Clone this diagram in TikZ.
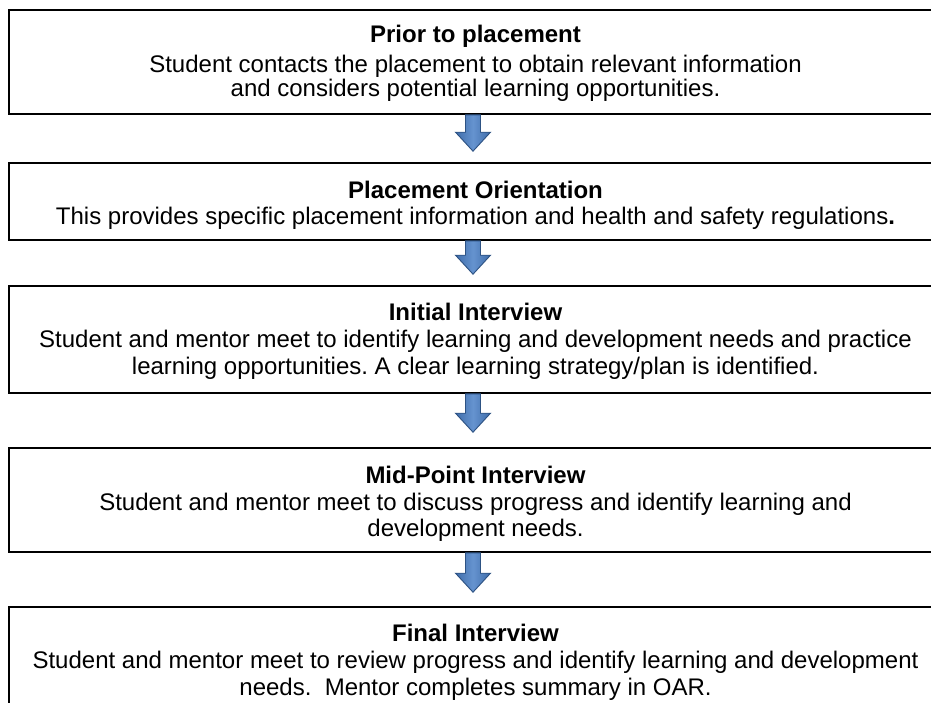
\documentclass[tikz,border=0pt]{standalone}
\usepackage{fontspec}
\setmainfont{Liberation Sans}
\usetikzlibrary{calc}
\frenchspacing

\definecolor{arrowedge}{HTML}{2D5283}
\definecolor{arrowdark}{HTML}{3F6DAA}
\definecolor{arrowlight}{HTML}{6593CF}

\tikzset{
  stagebox/.style={draw=black, line width=1.6pt, rectangle, inner sep=0pt,
                   minimum width=932pt},
  heading/.style={font=\fontsize{24}{27}\selectfont\bfseries, anchor=base, inner sep=0pt},
  body/.style={font=\fontsize{24}{27}\selectfont, anchor=base, inner sep=0pt},
  flowarrow/.style={draw=arrowedge, line width=0.9pt, left color=arrowdark,
                    right color=arrowdark, middle color=arrowlight},
}

% block arrow: shaft from #1 down to the head, tip at #2
\newcommand\blockarrow[2]{%
  \path[flowarrow] ($(#1)+(-7.5,0)$) -- ($(#2)+(-7.5,-19)$) -- ($(#2)+(-17.5,-19)$)
    -- (#2) -- ($(#2)+(17.5,-19)$) -- ($(#2)+(7.5,-19)$) -- ($(#1)+(7.5,0)$) -- cycle;}

\begin{document}
\begin{tikzpicture}[x=1pt, y=-1pt]
  \clip (0,0) rectangle (931,702);
  \fill[white] (0,0) rectangle (931,702);

  % stage boxes
  \node[stagebox, minimum height=104pt] (b1) at (475,62) {};
  \node[stagebox, minimum height=77pt]  (b2) at (475,201.5) {};
  \node[stagebox, minimum height=107pt] (b3) at (475,339.5) {};
  \node[stagebox, minimum height=104pt] (b4) at (475,500) {};
  \node[stagebox, minimum height=106pt] (b5) at (475,660) {};

  % texts
  \node[heading] (t1) at (475.5,42.5) {Prior to placement};
  \node[body] (t1a) at (475.5,72) {Student contacts the placement to obtain relevant information};
  \node[body] (t1b) at (475.5,96.5) {and considers potential learning opportunities.};

  \node[heading] (t2) at (475.5,198.5) {Placement Orientation};
  \node[body] (t2a) at (475.5,224.5) {This provides specific placement information and health and safety regulations{\bfseries .}};

  \node[heading] (t3) at (475.5,320) {Initial Interview};
  \node[body] (t3a) at (475.5,347.5) {Student and mentor meet to identify learning and development needs and practice};
  \node[body] (t3b) at (475.5,374.5) {learning opportunities. A clear learning strategy/plan is identified.};

  \node[heading] (t4) at (475.5,483) {Mid-Point Interview};
  \node[body] (t4a) at (475.5,510) {Student and mentor meet to discuss progress and identify learning and};
  \node[body] (t4b) at (475.5,536) {development needs.};

  \node[heading] (t5) at (475.5,641) {Final Interview};
  \node[body] (t5a) at (475.5,668) {Student and mentor meet to review progress and identify learning and development};
  \node[body] (t5b) at (475.5,695) {needs.\ \ Mentor completes summary in OAR.};

  % arrow ends
  \coordinate (a1s) at ($(b1.south)+(-2,0)$);
  \coordinate (a1e) at ($(b2.north)+(-2,-11)$);
  \coordinate (a2s) at ($(b2.south)+(-2,0)$);
  \coordinate (a2e) at ($(b3.north)+(-2,-11)$);
  \coordinate (a3s) at ($(b3.south)+(-2,0)$);
  \coordinate (a3e) at ($(b4.north)+(-2,-15)$);
  \coordinate (a4s) at ($(b4.south)+(-2,0)$);
  \coordinate (a4e) at ($(b5.north)+(-2,-14)$);

  \blockarrow{a1s}{a1e}
  \blockarrow{a2s}{a2e}
  \blockarrow{a3s}{a3e}
  \blockarrow{a4s}{a4e}
\end{tikzpicture}
\end{document}
